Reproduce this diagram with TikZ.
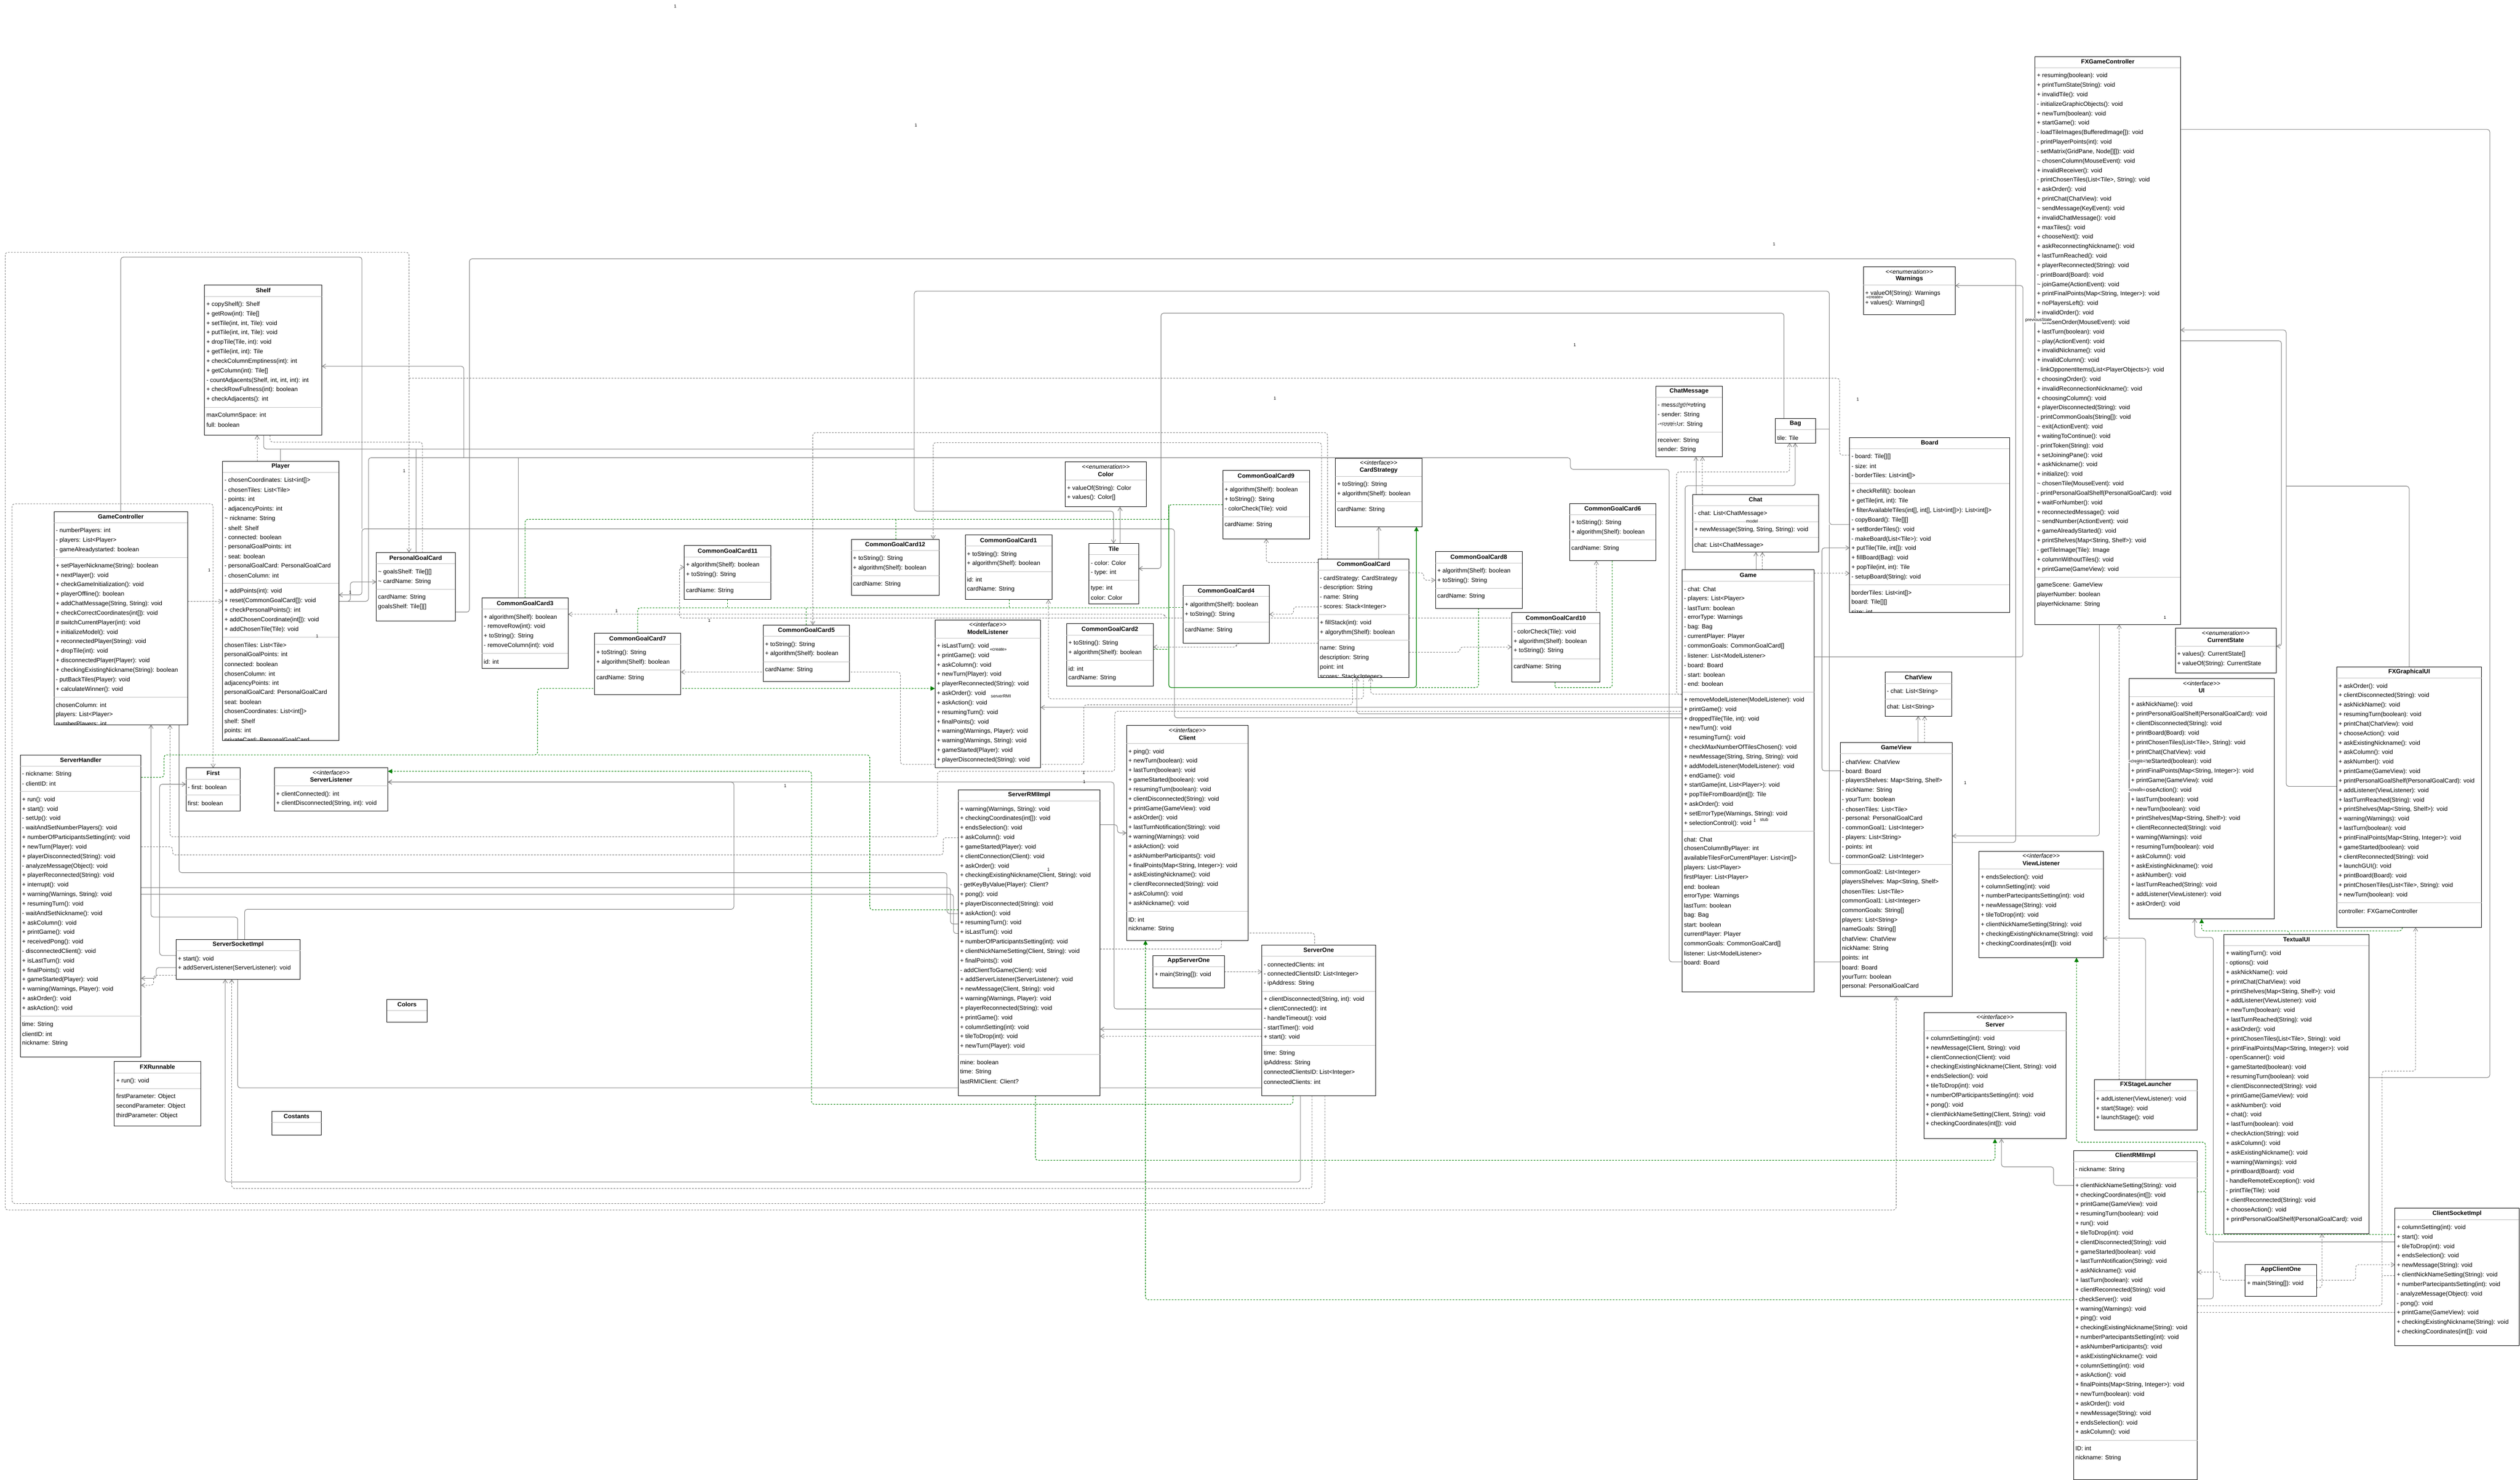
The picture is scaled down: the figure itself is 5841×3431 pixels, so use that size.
\documentclass[tikz,border=0pt]{standalone}
\usepackage{fontspec}
\setmainfont{Liberation Sans}
\usetikzlibrary{arrows.meta}
\pgfdeclarelayer{bg}
\pgfsetlayers{bg,main}
\definecolor{cgray}{RGB}{128,128,128}
\definecolor{cgreen}{RGB}{0,128,0}
\definecolor{sgray}{RGB}{190,190,190}
\tikzset{
  boxn/.style={draw=black, fill=white, line width=0.5pt, inner sep=0pt, outer sep=0pt},
  txt/.style={anchor=west, inner sep=0pt, font=\fontsize{7}{8}\selectfont},
  ttl/.style={inner sep=0pt, font=\fontsize{7}{8}\selectfont\bfseries},
  ster/.style={inner sep=0pt, font=\fontsize{7}{8}\selectfont\itshape},
  sepl/.style={draw=sgray, line width=0.5pt},
  cn/.style={draw=cgray, line width=0.6pt, rounded corners=3pt},
  dn/.style={cn, dash pattern=on 2pt off 1.5pt},
  oa/.style={-{Straight Barb[length=4pt,width=5pt]}},
  ao/.style={{Straight Barb[length=4pt,width=5pt]}-},
  ba/.style={{Straight Barb[length=4pt,width=5pt]}-{Straight Barb[length=4pt,width=5pt]}},
  rl/.style={draw=cgreen, line width=0.6pt, dash pattern=on 2pt off 1.5pt, rounded corners=3pt},
  gt/.style={-{Triangle[length=5pt,width=5pt,fill=cgreen]}},
  gl/.style={draw=cgreen, line width=0.7pt, rounded corners=3pt},
  lbl/.style={inner sep=0.3pt, font=\fontsize{5}{6}\selectfont},
  wlbl/.style={lbl, fill=white},
}
\newcommand\uBox[5]{%
  \pgfmathsetmacro\uW{(#4-#2)/2}%
  \pgfmathsetmacro\uH{(#5-#3)/2}%
  \node[boxn, minimum width=\uW pt, minimum height=\uH pt] (#1) at ({(#2+#4)/2},{(#3+#5)/2}) {};
  \begin{scope}
  \clip (#2,#3) rectangle (#4,#5);
  \def\uLx{#2}\def\uTy{#3}\def\uRx{#4}%
  \pgfmathsetmacro\uMx{(#2+#4)/2}%
  \pgfmathsetmacro\uSy{#3+26}%
  \pgfmathsetmacro\uCy{#3+45}%
}
\newcommand\uEnd{\end{scope}}
\newcommand\uT[1]{\node[ttl] at (\uMx,\uTy+12) {#1};\pgfmathsetmacro\uSy{\uTy+26}}
\newcommand\uI[2]{\node[ster] at (\uMx,\uTy+11) {<{}<#1>{}>};\node[ttl] at (\uMx,\uTy+28) {#2};\pgfmathsetmacro\uSy{\uTy+42}}
\newcommand\uS{\draw[sepl] (\uLx,\uSy) -- (\uRx,\uSy);\pgfmathsetmacro\uCy{\uSy+19}}
\newcommand\uL[1]{\node[txt] at (\uLx+4,\uCy) {#1};\pgfmathsetmacro\uSy{\uCy+18}\pgfmathsetmacro\uCy{\uCy+22}}
\newcommand\tl{\textasciitilde{}}
\begin{document}
\begin{tikzpicture}[x=0.5pt,y=-0.5pt]
\useasboundingbox (0,0) rectangle (5841,3431);
\begin{pgfonlayer}{bg}
\fill[white] (0,0) rectangle (5841,3431);
\end{pgfonlayer}

% ================= BOXES =================
\uBox{shelf}{474}{661}{746}{1009}
\uT{Shelf}\uS
\uL{+ copyShelf(): Shelf}
\uL{+ getRow(int): Tile[]}
\uL{+ setTile(int, int, Tile): void}
\uL{+ putTile(int, int, Tile): void}
\uL{+ dropTile(Tile, int): void}
\uL{+ getTile(int, int): Tile}
\uL{+ checkColumnEmptiness(int): int}
\uL{+ getColumn(int): Tile[]}
\uL{- countAdjacents(Shelf, int, int, int): int}
\uL{+ checkRowFullness(int): boolean}
\uL{+ checkAdjacents(): int}
\uS
\uL{maxColumnSpace: int}
\uL{full: boolean}
\uEnd

\uBox{player}{516}{1069}{785}{1717}
\uT{Player}\uS
\uL{- chosenCoordinates: List<int[]>}
\uL{- chosenTiles: List<Tile>}
\uL{- points: int}
\uL{- adjacencyPoints: int}
\uL{\tl\ nickname: String}
\uL{- shelf: Shelf}
\uL{- connected: boolean}
\uL{- personalGoalPoints: int}
\uL{- seat: boolean}
\uL{- personalGoalCard: PersonalGoalCard}
\uL{- chosenColumn: int}
\uS
\uL{+ addPoints(int): void}
\uL{+ reset(CommonGoalCard[]): void}
\uL{+ checkPersonalPoints(): int}
\uL{+ addChosenCoordinate(int[]): void}
\uL{+ addChosenTile(Tile): void}
\uS
\uL{chosenTiles: List<Tile>}
\uL{personalGoalPoints: int}
\uL{connected: boolean}
\uL{chosenColumn: int}
\uL{adjacencyPoints: int}
\uL{personalGoalCard: PersonalGoalCard}
\uL{seat: boolean}
\uL{chosenCoordinates: List<int[]>}
\uL{shelf: Shelf}
\uL{points: int}
\uL{privateCard: PersonalGoalCard}
\uEnd

\uBox{gc}{125}{1186}{435}{1680}
\uT{GameController}\uS
\uL{- numberPlayers: int}
\uL{- players: List<Player>}
\uL{- gameAlreadystarted: boolean}
\uS
\uL{+ setPlayerNickname(String): boolean}
\uL{+ nextPlayer(): void}
\uL{+ checkGameInitialization(): void}
\uL{+ playerOffline(): boolean}
\uL{+ addChatMessage(String, String): void}
\uL{+ checkCorrectCoordinates(int[]): void}
\uL{\# switchCurrentPlayer(int): void}
\uL{+ initializeModel(): void}
\uL{+ reconnectedPlayer(String): void}
\uL{+ dropTile(int): void}
\uL{+ disconnectedPlayer(Player): void}
\uL{+ checkingExistingNickname(String): boolean}
\uL{- putBackTiles(Player): void}
\uL{+ calculateWinner(): void}
\uS
\uL{chosenColumn: int}
\uL{players: List<Player>}
\uL{numberPlayers: int}
\uEnd

\uBox{sh}{47}{1750}{327}{2450}
\uT{ServerHandler}\uS
\uL{- nickname: String}
\uL{- clientID: int}
\uS
\uL{+ run(): void}
\uL{+ start(): void}
\uL{- setUp(): void}
\uL{- waitAndSetNumberPlayers(): void}
\uL{+ numberOfParticipantsSetting(int): void}
\uL{+ newTurn(Player): void}
\uL{+ playerDisconnected(String): void}
\uL{- analyzeMessage(Object): void}
\uL{+ playerReconnected(String): void}
\uL{+ interrupt(): void}
\uL{+ warning(Warnings, String): void}
\uL{+ resumingTurn(): void}
\uL{- waitAndSetNickname(): void}
\uL{+ askColumn(): void}
\uL{+ printGame(): void}
\uL{+ receivedPong(): void}
\uL{- disconnectedClient(): void}
\uL{+ isLastTurn(): void}
\uL{+ finalPoints(): void}
\uL{+ gameStarted(Player): void}
\uL{+ warning(Warnings, Player): void}
\uL{+ askOrder(): void}
\uL{+ askAction(): void}
\uS
\uL{time: String}
\uL{clientID: int}
\uL{nickname: String}
\uEnd

\uBox{first}{431}{1780}{557}{1880}
\uT{First}\uS
\uL{- first: boolean}
\uS
\uL{first: boolean}
\uEnd

\uBox{slist}{636}{1780}{899}{1880}
\uI{interface}{ServerListener}\uS
\uL{+ clientConnected(): int}
\uL{+ clientDisconnected(String, int): void}
\uEnd

\uBox{ssi}{408}{2178}{696}{2270}
\uT{ServerSocketImpl}\uS
\uL{+ start(): void}
\uL{+ addServerListener(ServerListener): void}
\uEnd

\uBox{fxr}{265}{2461}{465}{2610}
\uT{FXRunnable}\uS
\uL{+ run(): void}
\uS
\uL{firstParameter: Object}
\uL{secondParameter: Object}
\uL{thirdParameter: Object}
\uEnd

\uBox{cost}{630}{2576}{745}{2631}
\uT{Costants}\uS
\uEnd

\uBox{colors}{897}{2317}{990}{2369}
\uT{Colors}\uS
\uEnd

\uBox{pgc}{872}{1281}{1055}{1440}
\uT{PersonalGoalCard}\uS
\uL{\tl\ goalsShelf: Tile[][]}
\uL{\tl\ cardName: String}
\uS
\uL{cardName: String}
\uL{goalsShelf: Tile[][]}
\uEnd

\uBox{cg3}{1117}{1386}{1317}{1550}
\uT{CommonGoalCard3}\uS
\uL{+ algorithm(Shelf): boolean}
\uL{- removeRow(int): void}
\uL{+ toString(): String}
\uL{- removeColumn(int): void}
\uS
\uL{id: int}
\uEnd

\uBox{cg11}{1586}{1265}{1787}{1390}
\uT{CommonGoalCard11}\uS
\uL{+ algorithm(Shelf): boolean}
\uL{+ toString(): String}
\uS
\uL{cardName: String}
\uEnd

\uBox{cg7}{1378}{1468}{1578}{1610}
\uT{CommonGoalCard7}\uS
\uL{+ toString(): String}
\uL{+ algorithm(Shelf): boolean}
\uS
\uL{cardName: String}
\uEnd

\uBox{cg5}{1769}{1449}{1969}{1580}
\uT{CommonGoalCard5}\uS
\uL{+ toString(): String}
\uL{+ algorithm(Shelf): boolean}
\uS
\uL{cardName: String}
\uEnd

\uBox{cg12}{1973}{1250}{2177}{1380}
\uT{CommonGoalCard12}\uS
\uL{+ toString(): String}
\uL{+ algorithm(Shelf): boolean}
\uS
\uL{cardName: String}
\uEnd

\uBox{cg1}{2237}{1240}{2438}{1390}
\uT{CommonGoalCard1}\uS
\uL{+ toString(): String}
\uL{+ algorithm(Shelf): boolean}
\uS
\uL{id: int}
\uL{cardName: String}
\uEnd

\uBox{color}{2469}{1071}{2657}{1175}
\uI{enumeration}{Color}\uS
\uL{+ valueOf(String): Color}
\uL{+ values(): Color[]}
\uEnd

\uBox{tile}{2524}{1260}{2639}{1400}
\uT{Tile}\uS
\uL{- color: Color}
\uL{- type: int}
\uS
\uL{type: int}
\uL{color: Color}
\uEnd

\uBox{cg9}{2834}{1091}{3035}{1249}
\uT{CommonGoalCard9}\uS
\uL{+ algorithm(Shelf): boolean}
\uL{+ toString(): String}
\uL{- colorCheck(Tile): void}
\uS
\uL{cardName: String}
\uEnd

\uBox{cg4}{2742}{1357}{2942}{1491}
\uT{CommonGoalCard4}\uS
\uL{+ algorithm(Shelf): boolean}
\uL{+ toString(): String}
\uS
\uL{cardName: String}
\uEnd

\uBox{ml}{2167}{1437}{2412}{1780}
\uI{interface}{ModelListener}\uS
\uL{+ isLastTurn(): void}
\uL{+ printGame(): void}
\uL{+ askColumn(): void}
\uL{+ newTurn(Player): void}
\uL{+ playerReconnected(String): void}
\uL{+ askOrder(): void}
\uL{+ askAction(): void}
\uL{+ resumingTurn(): void}
\uL{+ finalPoints(): void}
\uL{+ warning(Warnings, Player): void}
\uL{+ warning(Warnings, String): void}
\uL{+ gameStarted(Player): void}
\uL{+ playerDisconnected(String): void}
\uEnd

\uBox{cg2}{2472}{1446}{2673}{1590}
\uT{CommonGoalCard2}\uS
\uL{+ toString(): String}
\uL{+ algorithm(Shelf): boolean}
\uS
\uL{id: int}
\uL{cardName: String}
\uEnd

\uBox{cs}{3095}{1062}{3296}{1221}
\uI{interface}{CardStrategy}\uS
\uL{+ toString(): String}
\uL{+ algorithm(Shelf): boolean}
\uS
\uL{cardName: String}
\uEnd

\uBox{cgc}{3055}{1296}{3266}{1570}
\uT{CommonGoalCard}\uS
\uL{- cardStrategy: CardStrategy}
\uL{- description: String}
\uL{- name: String}
\uL{- scores: Stack<Integer>}
\uS
\uL{+ fillStack(int): void}
\uL{+ algorythm(Shelf): boolean}
\uS
\uL{name: String}
\uL{description: String}
\uL{point: int}
\uL{scores: Stack<Integer>}
\uEnd

\uBox{cg8}{3327}{1279}{3528}{1410}
\uT{CommonGoalCard8}\uS
\uL{+ algorithm(Shelf): boolean}
\uL{+ toString(): String}
\uS
\uL{cardName: String}
\uEnd

\uBox{cg6}{3638}{1167}{3838}{1300}
\uT{CommonGoalCard6}\uS
\uL{+ toString(): String}
\uL{+ algorithm(Shelf): boolean}
\uS
\uL{cardName: String}
\uEnd

\uBox{cg10}{3504}{1420}{3708}{1581}
\uT{CommonGoalCard10}\uS
\uL{- colorCheck(Tile): void}
\uL{+ algorithm(Shelf): boolean}
\uL{+ toString(): String}
\uS
\uL{cardName: String}
\uEnd

\uBox{client}{2611}{1682}{2893}{2180}
\uI{interface}{Client}\uS
\uL{+ ping(): void}
\uL{+ newTurn(boolean): void}
\uL{+ lastTurn(boolean): void}
\uL{+ gameStarted(boolean): void}
\uL{+ resumingTurn(boolean): void}
\uL{+ clientDisconnected(String): void}
\uL{+ printGame(GameView): void}
\uL{+ askOrder(): void}
\uL{+ lastTurnNotification(String): void}
\uL{+ warning(Warnings): void}
\uL{+ askAction(): void}
\uL{+ askNumberParticipants(): void}
\uL{+ finalPoints(Map<String, Integer>): void}
\uL{+ askExistingNickname(): void}
\uL{+ clientReconnected(String): void}
\uL{+ askColumn(): void}
\uL{+ askNickname(): void}
\uS
\uL{ID: int}
\uL{nickname: String}
\uEnd

\uBox{srmi}{2221}{1831}{2550}{2540}
\uT{ServerRMIImpl}\uS
\uL{+ warning(Warnings, String): void}
\uL{+ checkingCoordinates(int[]): void}
\uL{+ endsSelection(): void}
\uL{+ askColumn(): void}
\uL{+ gameStarted(Player): void}
\uL{+ clientConnection(Client): void}
\uL{+ askOrder(): void}
\uL{+ checkingExistingNickname(Client, String): void}
\uL{- getKeyByValue(Player): Client?}
\uL{+ pong(): void}
\uL{+ playerDisconnected(String): void}
\uL{+ askAction(): void}
\uL{+ resumingTurn(): void}
\uL{+ isLastTurn(): void}
\uL{+ numberOfParticipantsSetting(int): void}
\uL{+ clientNickNameSetting(Client, String): void}
\uL{+ finalPoints(): void}
\uL{- addClientToGame(Client): void}
\uL{+ addServerListener(ServerListener): void}
\uL{+ newMessage(Client, String): void}
\uL{+ warning(Warnings, Player): void}
\uL{+ playerReconnected(String): void}
\uL{+ printGame(): void}
\uL{+ columnSetting(int): void}
\uL{+ tileToDrop(int): void}
\uL{+ newTurn(Player): void}
\uS
\uL{mine: boolean}
\uL{time: String}
\uL{lastRMIClient: Client?}
\uEnd

\uBox{aso}{2672}{2215}{2838}{2290}
\uT{AppServerOne}\uS
\uL{+ main(String[]): void}
\uEnd

\uBox{so}{2925}{2191}{3188}{2540}
\uT{ServerOne}\uS
\uL{- connectedClients: int}
\uL{- connectedClientsID: List<Integer>}
\uL{- ipAddress: String}
\uS
\uL{+ clientDisconnected(String, int): void}
\uL{+ clientConnected(): int}
\uL{- handleTimeout(): void}
\uL{- startTimer(): void}
\uL{+ start(): void}
\uS
\uL{time: String}
\uL{ipAddress: String}
\uL{connectedClientsID: List<Integer>}
\uL{connectedClients: int}
\uEnd

\uBox{warn}{4319}{619}{4532}{730}
\uI{enumeration}{Warnings}\uS
\uL{+ valueOf(String): Warnings}
\uL{+ values(): Warnings[]}
\uEnd

\uBox{cmsg}{3838}{895}{3992}{1059}
\uT{ChatMessage}\uS
\uL{- message: String}
\uL{- sender: String}
\uL{- receiver: String}
\uS
\uL{receiver: String}
\uL{sender: String}
\uEnd

\uBox{bag}{4115}{970}{4208}{1027}
\uT{Bag}\uS
\uL{tile: Tile}
\uEnd

\uBox{board}{4287}{1014}{4658}{1420}
\uT{Board}\uS
\uL{- board: Tile[][]}
\uL{- size: int}
\uL{- borderTiles: List<int[]>}
\uS
\uL{+ checkRefill(): boolean}
\uL{+ getTile(int, int): Tile}
\uL{+ filterAvailableTiles(int[], int[], List<int[]>): List<int[]>}
\uL{- copyBoard(): Tile[][]}
\uL{+ setBorderTiles(): void}
\uL{- makeBoard(List<Tile>): void}
\uL{+ putTile(Tile, int[]): void}
\uL{+ fillBoard(Bag): void}
\uL{+ popTile(int, int): Tile}
\uL{- setupBoard(String): void}
\uS
\uL{borderTiles: List<int[]>}
\uL{board: Tile[][]}
\uL{size: int}
\uEnd

\uBox{chat}{3923}{1146}{4215}{1280}
\uT{Chat}\uS
\uL{- chat: List<ChatMessage>}
\uS
\uL{+ newMessage(String, String, String): void}
\uS
\uL{chat: List<ChatMessage>}
\uEnd

\uBox{game}{3899}{1321}{4205}{2300}
\uT{Game}\uS
\uL{- chat: Chat}
\uL{- players: List<Player>}
\uL{- lastTurn: boolean}
\uL{- errorType: Warnings}
\uL{- bag: Bag}
\uL{- currentPlayer: Player}
\uL{- commonGoals: CommonGoalCard[]}
\uL{- listener: List<ModelListener>}
\uL{- board: Board}
\uL{- start: boolean}
\uL{- end: boolean}
\uS
\uL{+ removeModelListener(ModelListener): void}
\uL{+ printGame(): void}
\uL{+ droppedTile(Tile, int): void}
\uL{+ newTurn(): void}
\uL{+ resumingTurn(): void}
\uL{+ checkMaxNumberOfTilesChosen(): void}
\uL{+ newMessage(String, String, String): void}
\uL{+ addModelListener(ModelListener): void}
\uL{+ endGame(): void}
\uL{+ startGame(int, List<Player>): void}
\uL{+ popTileFromBoard(int[]): Tile}
\uL{+ askOrder(): void}
\uL{+ setErrorType(Warnings, String): void}
\uL{+ selectionControl(): void}
\uS
\uL{chat: Chat}
\uL{chosenColumnByPlayer: int}
\uL{availableTilesForCurrentPlayer: List<int[]>}
\uL{players: List<Player>}
\uL{firstPlayer: List<Player>}
\uL{end: boolean}
\uL{errorType: Warnings}
\uL{lastTurn: boolean}
\uL{bag: Bag}
\uL{start: boolean}
\uL{currentPlayer: Player}
\uL{commonGoals: CommonGoalCard[]}
\uL{listener: List<ModelListener>}
\uL{board: Board}
\uEnd

\uBox{cview}{4369}{1558}{4524}{1660}
\uT{ChatView}\uS
\uL{- chat: List<String>}
\uS
\uL{chat: List<String>}
\uEnd

\uBox{gview}{4265}{1721}{4525}{2310}
\uT{GameView}\uS
\uL{- chatView: ChatView}
\uL{- board: Board}
\uL{- playersShelves: Map<String, Shelf>}
\uL{- nickName: String}
\uL{- yourTurn: boolean}
\uL{- chosenTiles: List<Tile>}
\uL{- personal: PersonalGoalCard}
\uL{- commonGoal1: List<Integer>}
\uL{- players: List<String>}
\uL{- points: int}
\uL{- commonGoal2: List<Integer>}
\uS
\uL{commonGoal2: List<Integer>}
\uL{playersShelves: Map<String, Shelf>}
\uL{chosenTiles: List<Tile>}
\uL{commonGoal1: List<Integer>}
\uL{commonGoals: String[]}
\uL{players: List<String>}
\uL{nameGoals: String[]}
\uL{chatView: ChatView}
\uL{nickName: String}
\uL{points: int}
\uL{board: Board}
\uL{yourTurn: boolean}
\uL{personal: PersonalGoalCard}
\uEnd

\uBox{fxgc}{4717}{131}{5054}{1448}
\uT{FXGameController}\uS
\uL{+ resuming(boolean): void}
\uL{+ printTurnState(String): void}
\uL{+ invalidTile(): void}
\uL{- initializeGraphicObjects(): void}
\uL{+ newTurn(boolean): void}
\uL{+ startGame(): void}
\uL{- loadTileImages(BufferedImage[]): void}
\uL{- printPlayerPoints(int): void}
\uL{- setMatrix(GridPane, Node[][]): void}
\uL{\tl\ chosenColumn(MouseEvent): void}
\uL{+ invalidReceiver(): void}
\uL{- printChosenTiles(List<Tile>, String): void}
\uL{+ askOrder(): void}
\uL{+ printChat(ChatView): void}
\uL{\tl\ sendMessage(KeyEvent): void}
\uL{+ invalidChatMessage(): void}
\uL{+ maxTiles(): void}
\uL{+ chooseNext(): void}
\uL{+ askReconnectingNickname(): void}
\uL{+ lastTurnReached(): void}
\uL{+ playerReconnected(String): void}
\uL{- printBoard(Board): void}
\uL{\tl\ joinGame(ActionEvent): void}
\uL{+ printFinalPoints(Map<String, Integer>): void}
\uL{+ noPlayersLeft(): void}
\uL{+ invalidOrder(): void}
\uL{\tl\ chosenOrder(MouseEvent): void}
\uL{+ lastTurn(boolean): void}
\uL{\tl\ play(ActionEvent): void}
\uL{+ invalidNickname(): void}
\uL{+ invalidColumn(): void}
\uL{- linkOpponentItems(List<PlayerObjects>): void}
\uL{+ choosingOrder(): void}
\uL{+ invalidReconnectionNickname(): void}
\uL{+ choosingColumn(): void}
\uL{+ playerDisconnected(String): void}
\uL{- printCommonGoals(String[]): void}
\uL{\tl\ exit(ActionEvent): void}
\uL{+ waitingToContinue(): void}
\uL{- printToken(String): void}
\uL{+ setJoiningPane(): void}
\uL{+ askNickname(): void}
\uL{+ initialize(): void}
\uL{\tl\ chosenTile(MouseEvent): void}
\uL{- printPersonalGoalShelf(PersonalGoalCard): void}
\uL{+ waitForNumber(): void}
\uL{+ reconnectedMessage(): void}
\uL{\tl\ sendNumber(ActionEvent): void}
\uL{+ gameAlreadyStarted(): void}
\uL{+ printShelves(Map<String, Shelf>): void}
\uL{- getTileImage(Tile): Image}
\uL{+ columnWithoutTiles(): void}
\uL{+ printGame(GameView): void}
\uS
\uL{gameScene: GameView}
\uL{playerNumber: boolean}
\uL{playerNickname: String}
\uEnd

\uBox{cst}{5042}{1456}{5276}{1560}
\uI{enumeration}{CurrentState}\uS
\uL{+ values(): CurrentState[]}
\uL{+ valueOf(String): CurrentState}
\uEnd

\uBox{ui}{4935}{1573}{5271}{2130}
\uI{interface}{UI}\uS
\uL{+ askNickName(): void}
\uL{+ printPersonalGoalShelf(PersonalGoalCard): void}
\uL{+ clientDisconnected(String): void}
\uL{+ printBoard(Board): void}
\uL{+ printChosenTiles(List<Tile>, String): void}
\uL{+ printChat(ChatView): void}
\uL{+ gameStarted(boolean): void}
\uL{+ printFinalPoints(Map<String, Integer>): void}
\uL{+ printGame(GameView): void}
\uL{+ chooseAction(): void}
\uL{+ lastTurn(boolean): void}
\uL{+ newTurn(boolean): void}
\uL{+ printShelves(Map<String, Shelf>): void}
\uL{+ clientReconnected(String): void}
\uL{+ warning(Warnings): void}
\uL{+ resumingTurn(boolean): void}
\uL{+ askColumn(): void}
\uL{+ askExistingNickname(): void}
\uL{+ askNumber(): void}
\uL{+ lastTurnReached(String): void}
\uL{+ addListener(ViewListener): void}
\uL{+ askOrder(): void}
\uEnd

\uBox{vl}{4587}{1973}{4875}{2220}
\uI{interface}{ViewListener}\uS
\uL{+ endsSelection(): void}
\uL{+ columnSetting(int): void}
\uL{+ numberPartecipantsSetting(int): void}
\uL{+ newMessage(String): void}
\uL{+ tileToDrop(int): void}
\uL{+ clientNickNameSetting(String): void}
\uL{+ checkingExistingNickname(String): void}
\uL{+ checkingCoordinates(int[]): void}
\uEnd

\uBox{server}{4459}{2347}{4789}{2640}
\uI{interface}{Server}\uS
\uL{+ columnSetting(int): void}
\uL{+ newMessage(Client, String): void}
\uL{+ clientConnection(Client): void}
\uL{+ checkingExistingNickname(Client, String): void}
\uL{+ endsSelection(): void}
\uL{+ tileToDrop(int): void}
\uL{+ numberOfParticipantsSetting(int): void}
\uL{+ pong(): void}
\uL{+ clientNickNameSetting(Client, String): void}
\uL{+ checkingCoordinates(int[]): void}
\uEnd

\uBox{fxsl}{4854}{2503}{5093}{2620}
\uT{FXStageLauncher}\uS
\uL{+ addListener(ViewListener): void}
\uL{+ start(Stage): void}
\uL{+ launchStage(): void}
\uEnd

\uBox{tui}{5155}{2166}{5491}{2860}
\uT{TextualUI}\uS
\uL{+ waitingTurn(): void}
\uL{- options(): void}
\uL{+ askNickName(): void}
\uL{+ printChat(ChatView): void}
\uL{+ printShelves(Map<String, Shelf>): void}
\uL{+ addListener(ViewListener): void}
\uL{+ newTurn(boolean): void}
\uL{+ lastTurnReached(String): void}
\uL{+ askOrder(): void}
\uL{+ printChosenTiles(List<Tile>, String): void}
\uL{+ printFinalPoints(Map<String, Integer>): void}
\uL{- openScanner(): void}
\uL{+ gameStarted(boolean): void}
\uL{+ resumingTurn(boolean): void}
\uL{+ clientDisconnected(String): void}
\uL{+ printGame(GameView): void}
\uL{+ askNumber(): void}
\uL{+ chat(): void}
\uL{+ lastTurn(boolean): void}
\uL{+ checkAction(String): void}
\uL{+ askColumn(): void}
\uL{+ askExistingNickname(): void}
\uL{+ warning(Warnings): void}
\uL{+ printBoard(Board): void}
\uL{- handleRemoteException(): void}
\uL{- printTile(Tile): void}
\uL{+ clientReconnected(String): void}
\uL{+ chooseAction(): void}
\uL{+ printPersonalGoalShelf(PersonalGoalCard): void}
\uEnd

\uBox{fxgui}{5416}{1546}{5752}{2150}
\uT{FXGraphicalUI}\uS
\uL{+ askOrder(): void}
\uL{+ clientDisconnected(String): void}
\uL{+ askNickName(): void}
\uL{+ resumingTurn(boolean): void}
\uL{+ printChat(ChatView): void}
\uL{+ chooseAction(): void}
\uL{+ askExistingNickname(): void}
\uL{+ askColumn(): void}
\uL{+ askNumber(): void}
\uL{+ printGame(GameView): void}
\uL{+ printPersonalGoalShelf(PersonalGoalCard): void}
\uL{+ addListener(ViewListener): void}
\uL{+ lastTurnReached(String): void}
\uL{+ printShelves(Map<String, Shelf>): void}
\uL{+ warning(Warnings): void}
\uL{+ lastTurn(boolean): void}
\uL{+ printFinalPoints(Map<String, Integer>): void}
\uL{+ gameStarted(boolean): void}
\uL{+ clientReconnected(String): void}
\uL{+ launchGUI(): void}
\uL{+ printBoard(Board): void}
\uL{+ printChosenTiles(List<Tile>, String): void}
\uL{+ newTurn(boolean): void}
\uS
\uL{controller: FXGameController}
\uEnd

\uBox{crmi}{4806}{2667}{5093}{3430}
\uT{ClientRMIImpl}\uS
\uL{- nickname: String}
\uS
\uL{+ clientNickNameSetting(String): void}
\uL{+ checkingCoordinates(int[]): void}
\uL{+ printGame(GameView): void}
\uL{+ resumingTurn(boolean): void}
\uL{+ run(): void}
\uL{+ tileToDrop(int): void}
\uL{+ clientDisconnected(String): void}
\uL{+ gameStarted(boolean): void}
\uL{+ lastTurnNotification(String): void}
\uL{+ askNickname(): void}
\uL{+ lastTurn(boolean): void}
\uL{+ clientReconnected(String): void}
\uL{- checkServer(): void}
\uL{+ warning(Warnings): void}
\uL{+ ping(): void}
\uL{+ checkingExistingNickname(String): void}
\uL{+ numberPartecipantsSetting(int): void}
\uL{+ askNumberParticipants(): void}
\uL{+ askExistingNickname(): void}
\uL{+ columnSetting(int): void}
\uL{+ askAction(): void}
\uL{+ finalPoints(Map<String, Integer>): void}
\uL{+ newTurn(boolean): void}
\uL{+ askOrder(): void}
\uL{+ newMessage(String): void}
\uL{+ endsSelection(): void}
\uL{+ askColumn(): void}
\uS
\uL{ID: int}
\uL{nickname: String}
\uEnd

\uBox{aco}{5204}{2931}{5369}{3005}
\uT{AppClientOne}\uS
\uL{+ main(String[]): void}
\uEnd

\uBox{csi}{5551}{2801}{5839}{3120}
\uT{ClientSocketImpl}\uS
\uL{+ columnSetting(int): void}
\uL{+ start(): void}
\uL{+ tileToDrop(int): void}
\uL{+ endsSelection(): void}
\uL{+ newMessage(String): void}
\uL{+ clientNickNameSetting(String): void}
\uL{+ numberPartecipantsSetting(int): void}
\uL{- analyzeMessage(Object): void}
\uL{- pong(): void}
\uL{+ printGame(GameView): void}
\uL{+ checkingExistingNickname(String): void}
\uL{+ checkingCoordinates(int[]): void}
\uEnd

% ================= LABELS =================
\foreach \p in {(1565,15),(2123,290),(4112,566),(3650,800),(2955,923),(4306,926),(485,1322),(937,1092),(812,1373),(735,1475),(1429,1416),(1644,1439),(1820,1822),(2512,1792),(2513,1813),(2430,2016),(4555,1815),(5018,1432)}
  \node[lbl] at \p {1};
\node[wlbl] at (2314,1505) {«create»};
\node[lbl] at (2320,1614) {serverRMI};
\node[wlbl] at (4061,1209) {model};
\node[wlbl] at (3906,937) {chatView};
\node[wlbl] at (3869,982) {«create»1};
\node[wlbl] at (4345,689) {«create»};
\node[lbl] at (4067,1902) {1};
\node[lbl] at (4089,1900) {stub};
\node[wlbl] at (4953,1765) {«create»};
\node[wlbl] at (4953,1832) {«create»};
\node[wlbl] at (4725,742) {previousState};

% ================= CONNECTORS =================
\begin{pgfonlayer}{bg}
% Shelf / Player / PersonalGoalCard / Tile
\draw[dn,oa] (596,0 |- player.north) -- (596,0 |- shelf.south);
\draw[cn] (611,0 |- shelf.south) -- (611,1041) -- (2119,1041);
\draw[cn,oa] (board.west |- 0,1216) -- (4240,1216) -- (4240,675) -- (2119,675) -- (2119,1185) -- (2581,1185) -- (2581,0 |- tile.north);
\draw[cn] (bag.east |- 0,995) -- (4240,995);
\draw[cn] (gview.west |- 0,2002) -- (4240,2002) -- (4240,1216);
\draw[cn,oa] (4135,0 |- bag.north) -- (4135,726) -- (2691,726) -- (2691,1318) -- (tile.east |- 0,1318);
\draw[cn] (964,1041) -- (964,0 |- pgc.north);
\draw[dn] (626,0 |- shelf.south) -- (626,1025) -- (979,1025) -- (979,0 |- pgc.north);
\draw[cn] (650,0 |- player.north) -- (650,1041);
\draw[dn,oa] (3063,0 |- cgc.north) -- (3063,1026) -- (2163,1026) -- (2163,0 |- cg12.north);
\draw[dn,oa] (3077,0 |- cgc.north) -- (3077,1003) -- (1884,1003) -- (1884,0 |- cg5.north);
\draw[cn] (player.east |- 0,1394) -- (854,1394) -- (854,1061) -- (3640,1061) -- (3640,1088) -- (3869,1088) -- (3869,2230) -- (gview.west |- 0,2230);
\draw[cn] (1202,0 |- cg3.north) -- (1202,1061);
\draw[cn,ao] (shelf.east |- 0,849) -- (1075,849) -- (1075,1061);
\draw[cn] (pgc.east |- 0,1419) -- (1088,1419) -- (1088,600) -- (4672,600) -- (4672,1953) -- (gview.east |- 0,1953);
\draw[dn,oa] (gc.east |- 0,1394) -- (player.west |- 0,1394);
\draw[cn,oa] (player.east |- 0,1394) -- (812,1394) -- (812,1349) -- (pgc.west |- 0,1349);
\draw[cn,oa] (game.west |- 0,1664) -- (2722,1664) -- (2722,1226) -- (839,1226) -- (839,1379) -- (player.east |- 0,1379);
\draw[cn] (280,0 |- gc.north) -- (280,596) -- (839,596) -- (839,1226);
\draw[dn,ba] (948,0 |- pgc.north) -- (948,585) -- (12,585) -- (12,2805) -- (4395,2805) -- (4395,0 |- gview.south);
\draw[dn] (board.west |- 0,1055) -- (4264,1055) -- (4264,877) -- (948,877);
\draw[dn,oa] (3071,0 |- so.south) -- (3071,2790) -- (28,2790) -- (28,1168) -- (494,1168) -- (494,0 |- first.north);
% GameController / ServerHandler / sockets
\draw[cn,ao] (350,0 |- gc.south) -- (350,2126) -- (551,2126) -- (551,0 |- ssi.north);
\draw[dn,ao] (394,0 |- gc.south) -- (394,1940) -- (2173,1940) -- (2173,1788) -- (2584,1788) -- (2584,1649) -- (game.west |- 0,1649);
\draw[cn] (415,0 |- gc.south) -- (415,2023) -- (2195,2023) -- (2195,2118) -- (srmi.west |- 0,2118);
\draw[cn] (sh.east |- 0,2058) -- (2203,2058) -- (2203,2142) -- (srmi.west |- 0,2142);
\draw[cn] (sh.east |- 0,2073) -- (2210,2073) -- (2210,2164) -- (srmi.west |- 0,2164);
\draw[dn] (sh.east |- 0,1963) -- (400,1963) -- (400,1982) -- (2186,1982) -- (2186,1942) -- (srmi.west |- 0,1942);
\draw[rl,gt] (sh.east |- 0,1802) -- (380,1802) -- (380,1750) -- (1246,1750) -- (1246,1596) -- (ml.west |- 0,1596);
\draw[rl] (srmi.west |- 0,2109) -- (2016,2109) -- (2016,1750) -- (1246,1750);
\draw[cn,oa] (ssi.west |- 0,2215) -- (370,2215) -- (370,1818) -- (first.west |- 0,1818);
\draw[cn,oa] (ssi.west |- 0,2243) -- (362,2243) -- (362,2268) -- (sh.east |- 0,2268);
\draw[dn,oa] (ssi.west |- 0,2261) -- (356,2261) -- (356,2284) -- (sh.east |- 0,2284);
\draw[cn,oa] (567,0 |- ssi.north) -- (567,2108) -- (1701,2108) -- (1701,1813) -- (slist.east |- 0,1813);
\draw[cn,oa] (so.west |- 0,2339) -- (2582,2339) -- (2582,1813) -- (slist.east |- 0,1813);
\draw[rl,gt] (2997,0 |- so.south) -- (2997,2560) -- (1881,2560) -- (1881,1788) -- (slist.east |- 0,1788);
\draw[cn,oa] (3014,0 |- so.south) -- (3014,2740) -- (522,2740) -- (522,0 |- ssi.south);
\draw[dn,oa] (3041,0 |- so.south) -- (3041,2755) -- (537,2755) -- (537,0 |- ssi.south);
\draw[cn] (551,0 |- ssi.south) -- (551,2522) -- (so.west |- 0,2522);
\draw[cn,oa] (so.west |- 0,2386) -- (srmi.east |- 0,2386);
\draw[dn,oa] (so.west |- 0,2402) -- (srmi.east |- 0,2402);
\draw[dn,oa] (aso.east |- 0,2253) -- (so.west |- 0,2253);
\draw[cn,oa] (srmi.east |- 0,1912) -- (2590,1912) -- (2590,1931) -- (client.west |- 0,1931);
\draw[dn] (srmi.east |- 0,2200) -- (2831,2200) -- (2831,2163) -- (3047,2163) -- (3047,0 |- so.north);
\draw[rl,gt] (2400,0 |- srmi.south) -- (2400,2690) -- (4624,2690) -- (4624,0 |- server.south);
% client side
\draw[cn,oa] (crmi.west |- 0,2748) -- (4760,2748) -- (4760,2705) -- (4639,2705) -- (4639,0 |- server.south);
\draw[rl,gt] (crmi.west |- 0,3013) -- (2655,3013) -- (2655,0 |- client.south);
\draw[rl,gt] (crmi.east |- 0,2763) -- (5112,2763) -- (5112,2648) -- (4813,2648) -- (4813,0 |- vl.south);
\draw[rl] (csi.west |- 0,2862) -- (5112,2862) -- (5112,2763);
\draw[dn,oa] (aco.west |- 0,2968) -- (5145,2968) -- (5145,2949) -- (crmi.east |- 0,2949);
\draw[dn,oa] (aco.east |- 0,2968) -- (5460,2968) -- (5460,2932) -- (csi.west |- 0,2932);
\draw[dn,oa] (aco.east |- 0,2985) -- (5382,2985) -- (5382,0 |- tui.south);
\draw[cn,oa] (csi.west |- 0,2879) -- (5130,2879) -- (5130,2173) -- (5087,2173) -- (5087,0 |- ui.south);
\draw[cn] (crmi.east |- 0,3011) -- (5130,3011) -- (5130,2879);
\draw[dn,oa] (crmi.east |- 0,3027) -- (5521,3027) -- (5521,2483) -- (5599,2483) -- (5599,0 |- fxgui.south);
\draw[dn] (csi.west |- 0,2957) -- (5521,2957);
\draw[dn] (crmi.east |- 0,3043) -- (csi.west |- 0,3043);
\draw[cn] (tui.east |- 0,2498) -- (5771,2498) -- (5771,300) -- (fxgc.east |- 0,300);
\draw[cn,oa] (fxgui.west |- 0,1823) -- (5299,1823) -- (5299,765) -- (fxgc.east |- 0,765);
\draw[cn] (5584,0 |- fxgui.north) -- (5584,1127) -- (5299,1127);
\draw[cn,oa] (fxgc.east |- 0,790) -- (5288,790) -- (5288,1498) -- (cst.east |- 0,1498);
\draw[cn,oa] (4866,0 |- fxgc.south) -- (4866,1938) -- (gview.east |- 0,1938);
\draw[dn,oa] (4912,0 |- fxsl.north) -- (4912,0 |- fxgc.south);
\draw[cn,oa] (4973,0 |- fxsl.north) -- (4973,2175) -- (vl.east |- 0,2175);
\draw[rl,gt] (5307,0 |- tui.north) -- (5307,2158) -- (5103,2158) -- (5103,0 |- ui.south);
\draw[rl] (5568,0 |- fxgui.south) -- (5568,2158) -- (5307,2158);
% model
\draw[cn,oa] (2596,0 |- tile.north) -- (2596,0 |- color.south);
\draw[cn,oa] (3906,0 |- game.north) -- (3906,1126) -- (4161,1126) -- (4161,0 |- bag.south);
\draw[dn,oa] (game.west |- 0,1610) -- (3886,1610) -- (3886,1094) -- (4148,1094) -- (4148,0 |- bag.south);
\draw[cn,oa] (3931,0 |- chat.north) -- (3931,0 |- cmsg.south);
\draw[dn,oa] (3946,0 |- chat.north) -- (3946,0 |- cmsg.south);
\draw[cn,oa] (4070,0 |- game.north) -- (4070,0 |- chat.south);
\draw[dn,oa] (4085,0 |- game.north) -- (4085,0 |- chat.south);
\draw[dn,oa] (game.east |- 0,1329) -- (board.west |- 0,1329);
\draw[cn,oa] (game.east |- 0,1523) -- (4689,1523) -- (4689,662) -- (warn.east |- 0,662);
\draw[cn,oa] (gview.west |- 0,1787) -- (4223,1787) -- (4223,1270) -- (board.west |- 0,1270);
\draw[cn,oa] (4446,0 |- gview.north) -- (4446,0 |- cview.south);
\draw[dn,oa] (4461,0 |- gview.north) -- (4461,0 |- cview.south);
\draw[cn,oa] (game.west |- 0,1640) -- (ml.east |- 0,1640);
\draw[cn,oa] (game.west |- 0,1655) -- (3145,1655) -- (3145,0 |- cgc.south);
\draw[dn,oa] (game.west |- 0,1609) -- (3177,1609) -- (3177,0 |- cgc.south);
\draw[dn,oa] (3135,0 |- cgc.south) -- (3135,1634) -- (2512,1634) -- (2512,1772) -- (2087,1772) -- (2087,1558) -- (cg7.east |- 0,1558);
\draw[dn,oa] (3160,0 |- cgc.south) -- (3160,1620) -- (2430,1620) -- (2430,0 |- cg1.south);
\draw[dn,oa] (cgc.west |- 0,1304) -- (2935,1304) -- (2935,0 |- cg9.south);
\draw[dn,oa] (cgc.west |- 0,1407) -- (2998,1407) -- (2998,1424) -- (cg4.east |- 0,1424);
\draw[dn,oa] (cgc.west |- 0,1491) -- (2866,1491) -- (2866,1500) -- (cg2.east |- 0,1500);
\draw[dn,oa] (cgc.east |- 0,1328) -- (3300,1328) -- (3300,1345) -- (cg8.west |- 0,1345);
\draw[dn,oa] (cgc.east |- 0,1512) -- (3384,1512) -- (3384,1500) -- (cg10.west |- 0,1500);
\draw[dn,oa] (cgc.east |- 0,1433) -- (3700,1433) -- (3700,0 |- cg6.south);
\draw[dn,oa] (cgc.west |- 0,1433) -- (2700,1433) -- (2700,1424) -- (cg3.east |- 0,1424);
\draw[dn,oa] (2700,1433) -- (1575,1433) -- (1575,1315) -- (cg11.west |- 0,1315);
\draw[cn,oa] (3196,0 |- cgc.north) -- (3196,0 |- cs.south);
% realizations of CardStrategy
\draw[rl] (1217,0 |- cg3.north) -- (1217,1204) -- (2709,1204);
\draw[rl] (2076,0 |- cg12.north) -- (2076,1204);
\draw[rl] (cg9.west |- 0,1170) -- (2709,1170) -- (2709,1204);
\draw[rl] (1478,0 |- cg7.north) -- (1478,1409) -- (2709,1409);
\draw[rl] (1686,0 |- cg11.south) -- (1686,1409);
\draw[rl] (1869,0 |- cg5.north) -- (1869,1409);
\draw[rl] (2339,0 |- cg1.south) -- (2339,1409);
\draw[rl] (cg4.west |- 0,1408) -- (2709,1408);
\draw[rl] (cg2.east |- 0,1505) -- (2709,1505);
\draw[gl,gt] (2709,1170) -- (2709,1594) -- (3283,1594) -- (3283,0 |- cs.south);
\draw[rl] (3427,0 |- cg8.south) -- (3427,1594) -- (3283,1594);
\draw[rl] (3605,0 |- cg10.south) -- (3605,1594);
\draw[rl] (3737,0 |- cg6.south) -- (3737,1594) -- (3605,1594);
\end{pgfonlayer}
\end{tikzpicture}
\end{document}
